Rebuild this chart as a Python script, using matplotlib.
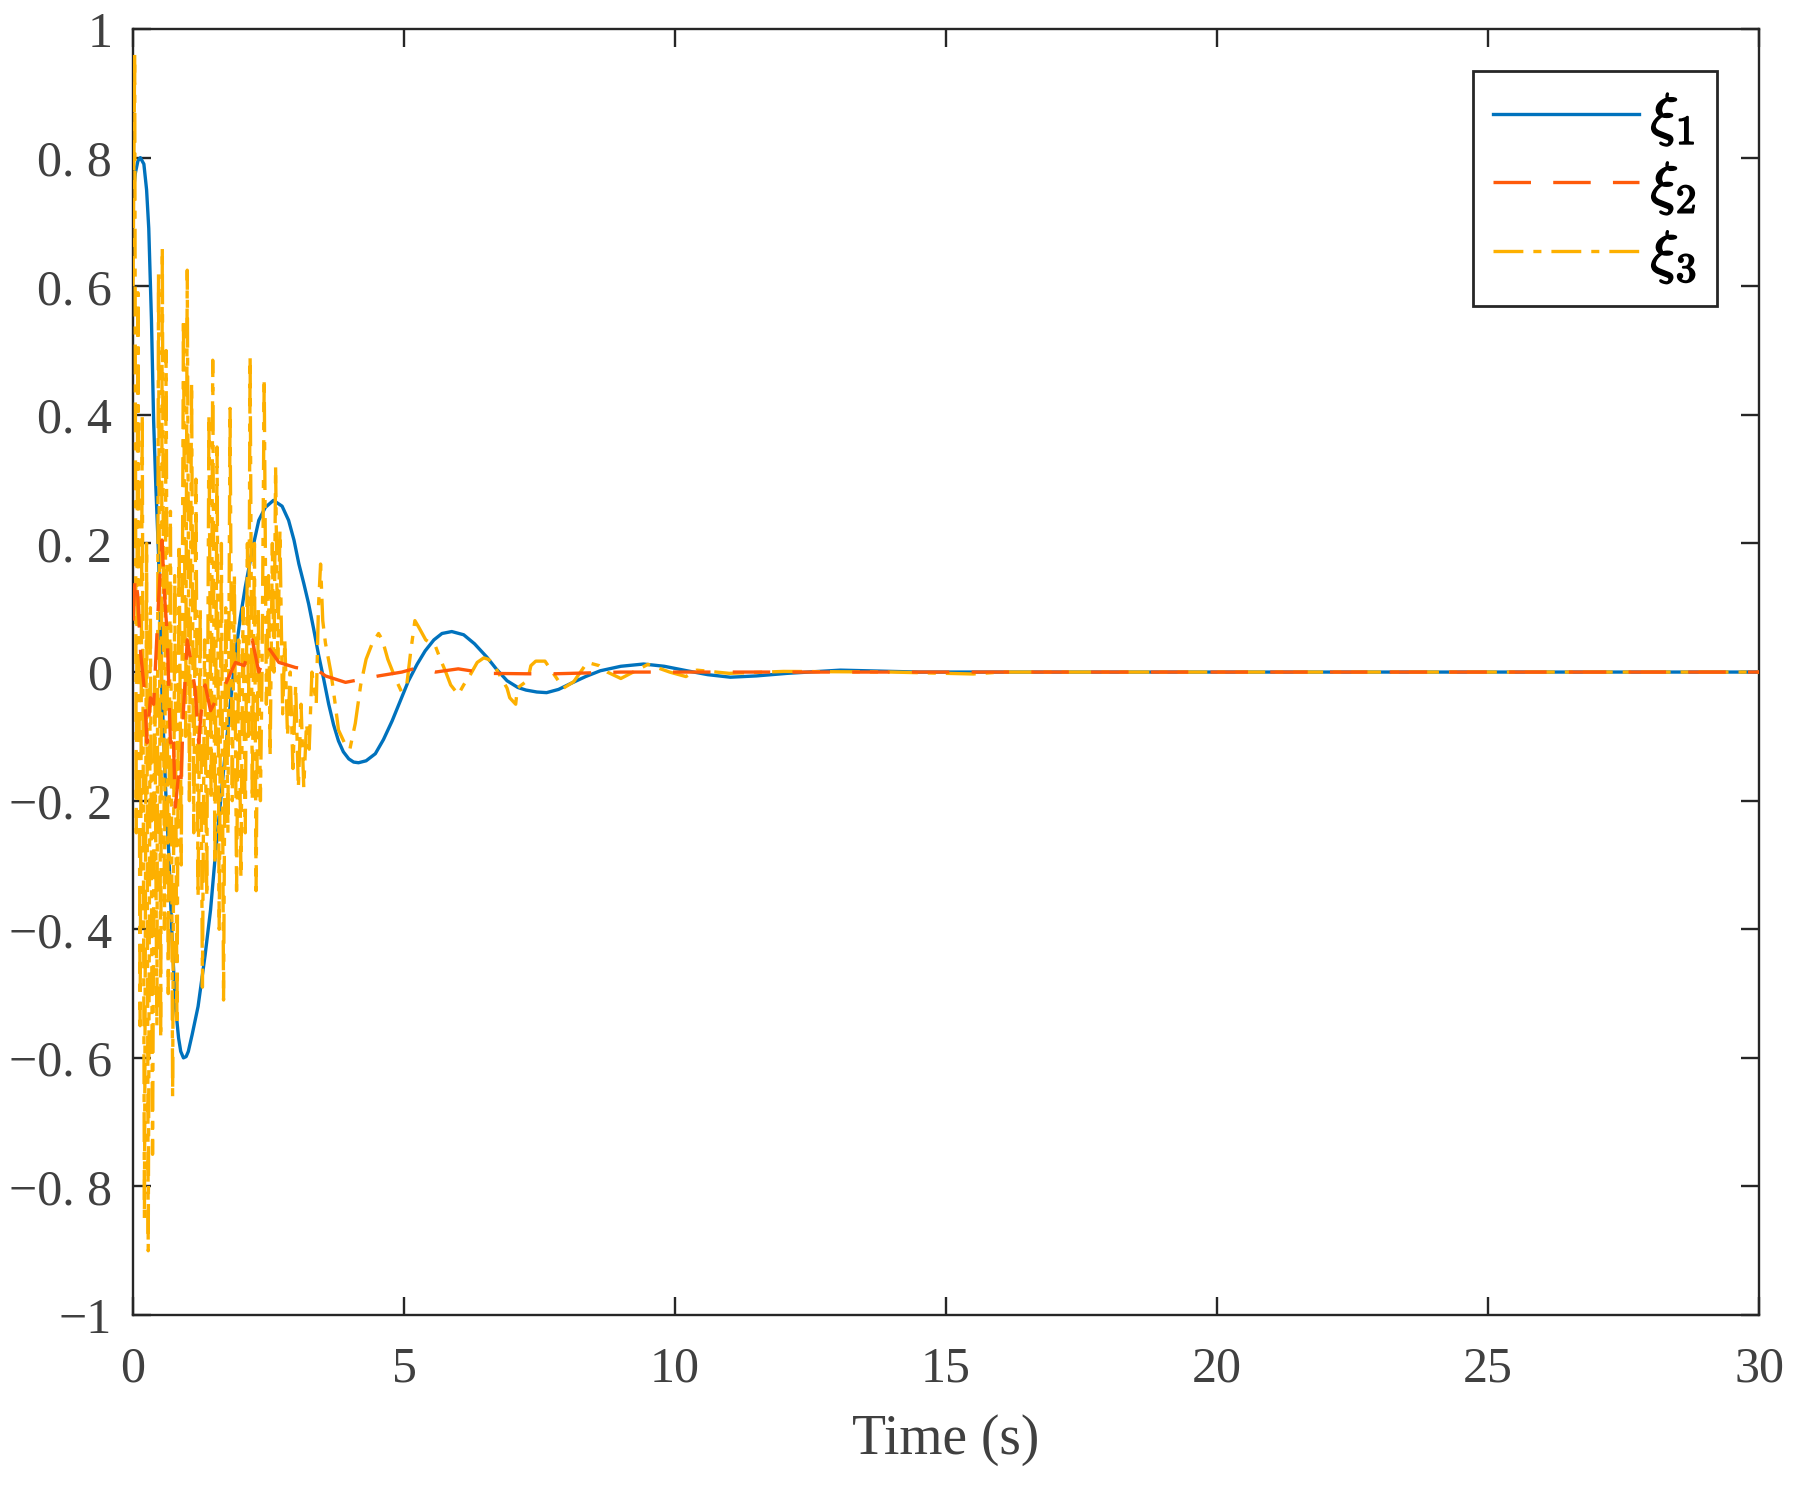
# plot.py
# Response of xi_1, xi_2, xi_3 over time, MATLAB-style figure.

import matplotlib
matplotlib.use('Agg')
import matplotlib.pyplot as plt
import matplotlib.patheffects as pe

# xi_1 (smooth damped oscillation)
xi1_t = [0.0, 0.04, 0.09, 0.135, 0.2, 0.25, 0.29, 0.34, 0.38, 0.42, 0.47, 0.53,
         0.60, 0.66, 0.72, 0.78, 0.84, 0.88, 0.93, 0.98, 1.02, 1.09, 1.2, 1.33,
         1.43, 1.52, 1.61, 1.70, 1.80, 1.89, 1.98, 2.07, 2.2, 2.32, 2.44, 2.59,
         2.75, 2.87, 2.97, 3.06, 3.15, 3.24, 3.33, 3.42, 3.52, 3.61, 3.70, 3.79,
         3.88, 3.98, 4.07, 4.16, 4.3, 4.47, 4.62, 4.78, 4.93, 5.08, 5.24, 5.39,
         5.55, 5.70, 5.88, 6.1, 6.3, 6.53, 6.7, 6.90, 7.1, 7.25, 7.45, 7.63,
         7.85, 8.07, 8.35, 8.62, 9.0, 9.42, 9.8, 10.22, 10.6, 11.02, 11.5, 12.07,
         13.05, 14.5, 16.0, 20.0, 25.0, 30.0]
xi1_y = [0.74, 0.775, 0.795, 0.80, 0.79, 0.75, 0.69, 0.547, 0.39, 0.29, 0.184, -0.024,
         -0.18, -0.283, -0.413, -0.517, -0.569, -0.59, -0.60, -0.598, -0.59, -0.564, -0.52, -0.44,
         -0.37, -0.283, -0.205, -0.127, -0.045, 0.028, 0.085, 0.132, 0.19, 0.236, 0.256, 0.267,
         0.258, 0.236, 0.205, 0.168, 0.138, 0.106, 0.068, 0.028, -0.012, -0.05, -0.082, -0.107,
         -0.124, -0.135, -0.140, -0.141, -0.138, -0.127, -0.105, -0.076, -0.045, -0.014, 0.012, 0.033,
         0.050, 0.060, 0.063, 0.058, 0.044, 0.023, 0.005, -0.0135, -0.024, -0.028, -0.031, -0.032,
         -0.027, -0.018, -0.007, 0.002, 0.009, 0.0125, 0.009, 0.002, -0.004, -0.008, -0.006, -0.002,
         0.003, 0.0, 0.0, 0.0, 0.0, 0.0]

# xi_2 (small chattering around zero)
xi2_t = [0.0, 0.04, 0.085, 0.14, 0.2, 0.26, 0.32, 0.38, 0.47, 0.535, 0.58, 0.63,
         0.69, 0.74, 0.78, 0.84, 0.88, 0.93, 1.0, 1.08, 1.15, 1.21, 1.27, 1.33,
         1.43, 1.55, 1.70, 1.89, 2.05, 2.2, 2.32, 2.5, 2.69, 3.0, 3.42, 3.55,
         3.92, 4.53, 4.96, 5.26, 5.58, 6.0, 6.53, 7.63, 9.0, 12.0, 30.0]
xi2_y = [0.08, 0.15, 0.12, 0.03, -0.02, -0.11, -0.04, -0.05, 0.11, 0.205, 0.12, 0.06,
         -0.11, -0.09, -0.21, -0.16, -0.18, -0.06, 0.05, 0.01, -0.03, -0.11, -0.05, -0.02,
         -0.06, -0.04, -0.02, 0.015, 0.01, 0.05, 0.0, 0.038, 0.015, 0.007, 0.002, -0.006,
         -0.016, -0.006, 0.0, 0.007, 0.0, 0.005, -0.002, -0.003, 0.0, 0.0, 0.0]

# xi_3 (strong chattering early on, dies out after ~10 s)
xi3_t = [0.00, 0.03, 0.06, 0.09, 0.13, 0.17, 0.21, 0.25, 0.28, 0.32, 0.36, 0.40,
         0.44, 0.47, 0.51, 0.54, 0.58, 0.61, 0.65, 0.69, 0.73, 0.77, 0.81, 0.85,
         0.89, 0.93, 0.97, 1.00, 1.04, 1.08, 1.12, 1.16, 1.20, 1.24, 1.28, 1.32,
         1.36, 1.40, 1.44, 1.47, 1.51, 1.55, 1.59, 1.63, 1.67, 1.71, 1.75, 1.79,
         1.83, 1.87, 1.91, 1.95, 1.99, 2.03, 2.07, 2.11, 2.13, 2.16, 2.20, 2.24,
         2.27, 2.31, 2.35, 2.38, 2.42, 2.46, 2.50, 2.53, 2.57, 2.60, 2.63, 2.67,
         2.71, 2.76, 2.80, 2.85, 2.90, 2.95, 3.00, 3.05, 3.10, 3.15, 3.20, 3.25,
         3.30, 3.38, 3.42, 3.46, 3.50,
         3.55, 3.65, 3.73, 3.79, 3.90, 4.00, 4.10, 4.20, 4.30, 4.41, 4.53, 4.60,
         4.70, 4.84, 4.95, 5.05, 5.12, 5.20, 5.27, 5.40, 5.58, 5.67, 5.77, 5.86,
         6.00, 6.10, 6.23, 6.35, 6.47, 6.55, 6.63, 6.90, 6.95, 7.06, 7.09, 7.28,
         7.34, 7.43, 7.60, 7.94, 8.13, 8.38, 8.60, 8.75, 9.00, 9.50, 9.90, 10.2,
         10.4, 11.0, 12.0, 14.0, 15.5, 16.0, 30.0]
xi3_y = [0.60, 0.96, -0.25, 0.59, -0.55, 0.40, -0.85, 0.20, -0.90, 0.10, -0.75, 0.00,
         -0.55, 0.62, -0.57, 0.66, -0.40, 0.50, -0.50, 0.25, -0.66, 0.15, -0.55, 0.20,
         -0.30, 0.55, -0.10, 0.625, -0.20, 0.45, -0.25, 0.30, -0.35, 0.10, -0.49, 0.05,
         -0.35, 0.40, -0.20, 0.485, -0.30, 0.35, -0.40, 0.20, -0.51, 0.10, -0.25, 0.41,
         -0.20, 0.15, -0.34, 0.05, -0.32, 0.10, -0.25, 0.20, -0.10, 0.49, -0.20, 0.20,
         -0.34, 0.10, -0.20, 0.00, 0.457, -0.05, 0.15, -0.13, 0.20, 0.00, 0.32, 0.02,
         0.22, -0.065, 0.05, -0.10, 0.00, -0.15, -0.02, -0.18, -0.05, -0.18, -0.08, -0.12,
         0.00, -0.05, 0.10, 0.168, 0.08,
         0.045, 0.00, -0.05, -0.09, -0.11, -0.12, -0.08, -0.02, 0.02, 0.044, 0.06, 0.05,
         0.02, -0.01, -0.03, -0.02, 0.03, 0.08, 0.07, 0.05, 0.04, 0.02, 0.00, -0.02,
         -0.035, -0.02, -0.003, 0.015, 0.022, 0.02, 0.015, -0.025, -0.04, -0.05, -0.025, -0.013,
         0.01, 0.017, 0.017, -0.025, -0.015, 0.015, 0.01, 0.0, -0.01, 0.012, 0.0, -0.007,
         0.003, -0.002, 0.001, 0.0, -0.003, 0.0, 0.0]

series_labels = [r'$\xi_1$', r'$\xi_2$', r'$\xi_3$']
x_ticks = [0, 5, 10, 15, 20, 25, 30]
y_ticks = [-1, -0.8, -0.6, -0.4, -0.2, 0, 0.2, 0.4, 0.6, 0.8, 1]
y_tick_labels = ['\u22121', '\u22120. 8', '\u22120. 6', '\u22120. 4', '\u22120. 2', '0',
                 '0. 2', '0. 4', '0. 6', '0. 8', '1']

plt.rcParams['font.family'] = ['Liberation Serif', 'DejaVu Serif']
plt.rcParams['mathtext.fontset'] = 'cm'
plt.rcParams['lines.scale_dashes'] = False

fig = plt.figure(figsize=(18.15, 14.90), dpi=100)
ax = fig.add_axes([0.0733, 0.1174, 0.8959, 0.8631])

ax.plot(xi1_t, xi1_y, color='#0072BD', lw=2.4, label=series_labels[0], zorder=2)
ax.plot(xi2_t, xi2_y, color='#FF5A0A', lw=2.4, dashes=(27, 16), label=series_labels[1],
        zorder=4)
ax.plot(xi3_t, xi3_y, color='#FDB000', lw=2.4, dashes=(21.5, 7.2, 5.8, 7.2),
        label=series_labels[2], zorder=3)

ax.set_xlim(0, 30)
ax.set_ylim(-1, 1)
ax.set_xticks(x_ticks)
ax.set_yticks(y_ticks)
ax.set_yticklabels(y_tick_labels)

axis_color = '#262626'
text_color = '#404040'
for side in ax.spines.values():
    side.set_linewidth(1.7)
    side.set_color(axis_color)
ax.tick_params(direction='in', length=13, width=1.7, color=axis_color,
               labelsize=36, labelcolor=text_color, top=True, right=True)
ax.tick_params(axis='x', pad=22)
ax.tick_params(axis='y', pad=15)

ax.set_xlabel('Time (s)', fontsize=40, color=text_color, labelpad=16)

leg = ax.legend(loc='upper right', fontsize=42, handlelength=2.5, handletextpad=0.2,
                labelspacing=0.22, borderpad=0.35, fancybox=False, framealpha=1,
                edgecolor='#262626', borderaxespad=0.72)
leg.get_frame().set_linewidth(2.0)
# the LaTeX labels in the original look slightly heavier
for txt in leg.get_texts():
    txt.set_path_effects([pe.withStroke(linewidth=1.2, foreground='black')])

fig.savefig('out.png', dpi=100)
